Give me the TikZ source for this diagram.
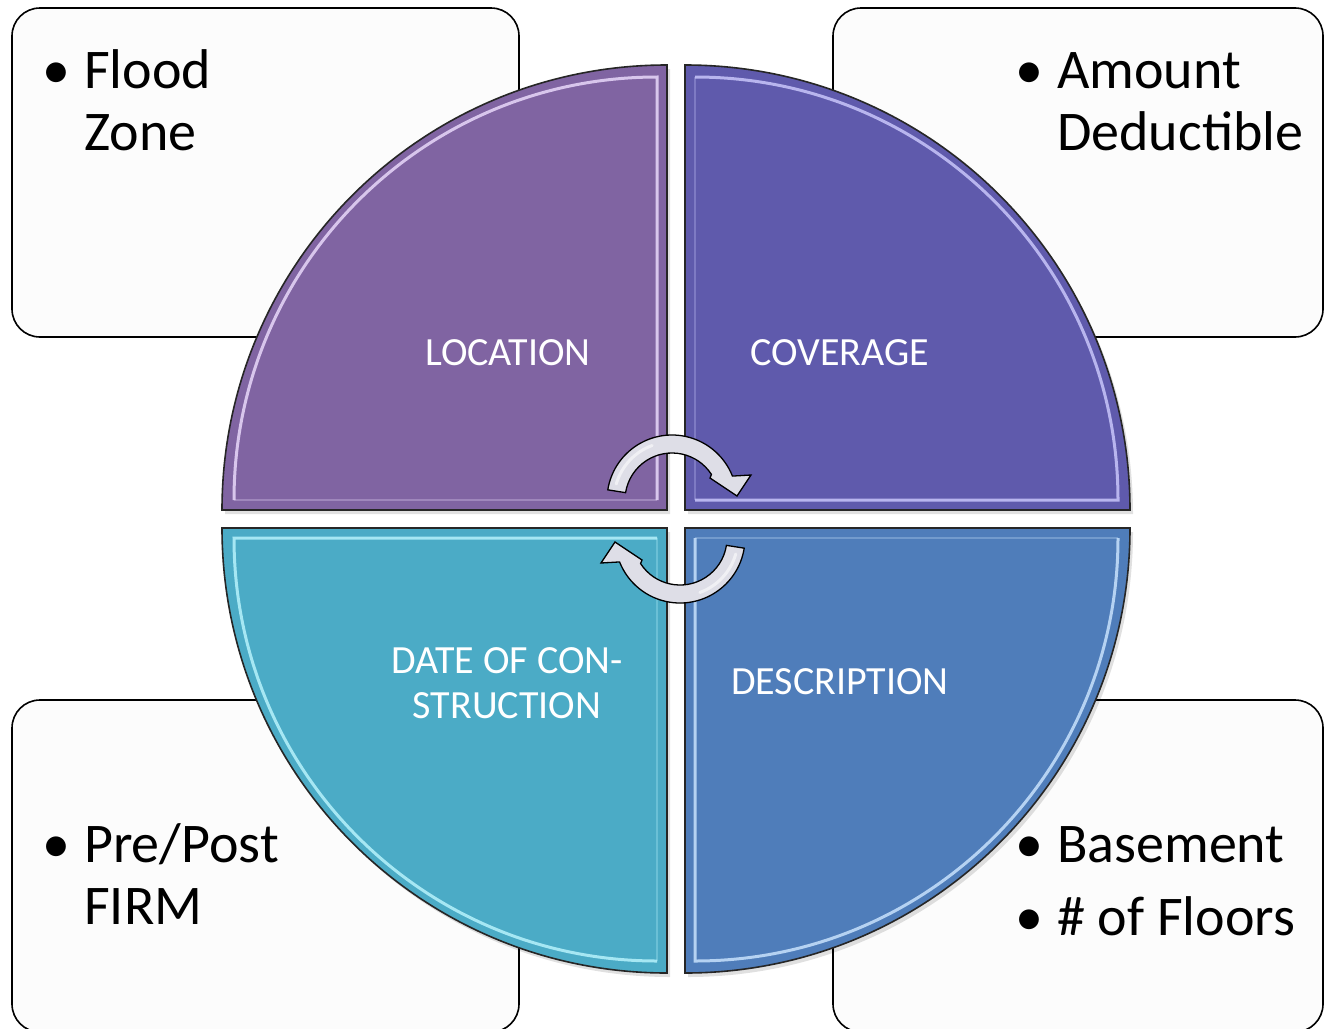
\documentclass[tikz,border=0pt]{standalone}
\usepackage{fontspec}
\setmainfont{Carlito}
\definecolor{boxfill}{RGB}{252,252,252}
\definecolor{locfill}{RGB}{128,100,162}
\definecolor{covfill}{RGB}{95,90,172}
\definecolor{desfill}{RGB}{79,125,186}
\definecolor{datfill}{RGB}{75,171,198}
\definecolor{lochi}{RGB}{232,216,250}
\definecolor{covhi}{RGB}{200,198,250}
\definecolor{deshi}{RGB}{200,225,252}
\definecolor{dathi}{RGB}{182,242,252}
\definecolor{arrowfill}{RGB}{222,222,231}
\begin{document}
\begin{tikzpicture}[x=1pt,y=-1pt,
  textbox/.style={draw=black, line width=1.6pt, fill=boxfill, rounded corners=28pt},
  quarter/.style={draw=black!85, line width=1.6pt},
  bevelline/.style={line width=3pt, opacity=0.85, line join=miter},
  bevelfaint/.style={line width=2.5pt, opacity=0.3},
  shadowq/.style={fill=black, opacity=0.12},
  itemtext/.style={anchor=base west, inner sep=0pt, font=\fontsize{56}{61.5}\selectfont, text=black},
  qlabel/.style={anchor=base, inner sep=0pt, font=\fontsize{40}{44}\selectfont, text=white},
  cyclearrow/.style={draw=black, line width=1.3pt, fill=arrowfill},
  arrowshine/.style={white, line width=3pt, opacity=0.55, line cap=round}]
\useasboundingbox (0,0) rectangle (1324,1028);
\fill[white] (0,0) rectangle (1324,1028);

% text boxes
\draw[textbox] (12,8) rectangle (519,337);
\draw[textbox] (833,8) rectangle (1323,337);
\draw[textbox] (12,700) rectangle (519,1032);
\draw[textbox] (833,700) rectangle (1323,1032);

% box texts
\node[itemtext] (b1) at (42,88) {•};
\node[itemtext] (t1a) at (84,88) {Flood};
\node[itemtext] (t1b) at (84,150) {Zone};
\node[itemtext] (b2) at (1015,88) {•};
\node[itemtext] (t2a) at (1057,88) {Amount};
\node[itemtext] (t2b) at (1057,150) {Deductible};
\node[itemtext] (b3) at (42,862) {•};
\node[itemtext] (t3a) at (84,862) {Pre/Post};
\node[itemtext] (t3b) at (84,924) {FIRM};
\node[itemtext] (b4) at (1015,862) {•};
\node[itemtext] (t4a) at (1057,862) {Basement};
\node[itemtext] (b5) at (1015,935) {•};
\node[itemtext] (t4b) at (1057,935) {\# of Floors};

% shadows
\fill[shadowq] (670,514) -- (225,514) arc[start angle=180,end angle=270,radius=445] -- cycle;
\fill[shadowq] (688,514) -- (688,69) arc[start angle=270,end angle=360,radius=445] -- cycle;
\fill[shadowq] (688,532) -- (1133,532) arc[start angle=0,end angle=90,radius=445] -- cycle;
\fill[shadowq] (670,532) -- (670,977) arc[start angle=90,end angle=180,radius=445] -- cycle;

% quarters
\draw[quarter, fill=locfill] (667,510) -- (222,510) arc[start angle=180,end angle=270,radius=445] -- cycle;
\draw[quarter, fill=covfill] (685,510) -- (685,65) arc[start angle=270,end angle=360,radius=445] -- cycle;
\draw[quarter, fill=desfill] (685,528) -- (1130,528) arc[start angle=0,end angle=90,radius=445] -- cycle;
\draw[quarter, fill=datfill] (667,528) -- (667,973) arc[start angle=90,end angle=180,radius=445] -- cycle;

% bevel highlights
\draw[bevelline, draw=lochi] (234,500) arc[start angle=180,end angle=270,radius=423] -- (657,500);
\draw[bevelfaint, draw=lochi] (657,500) -- (234,500);
\draw[bevelline, draw=covhi] (695,77) arc[start angle=270,end angle=360,radius=423] -- (695,500);
\draw[bevelfaint, draw=covhi] (695,500) -- (695,77);
\draw[bevelline, draw=deshi] (1118,538) arc[start angle=0,end angle=90,radius=423] -- (695,538);
\draw[bevelfaint, draw=deshi] (695,538) -- (1118,538);
\draw[bevelline, draw=dathi] (657,961) arc[start angle=90,end angle=180,radius=423] -- (657,538);
\draw[bevelfaint, draw=dathi] (657,538) -- (657,961);

% labels
\node[qlabel] (loc) at (508,365) {LOCATION};
\node[qlabel] (cov) at (840,365) {COVERAGE};
\node[qlabel] (des) at (840,694) {DESCRIPTION};
\node[qlabel] (dat1) at (507,673) {DATE OF CON-};
\node[qlabel] (dat2) at (507,718) {STRUCTION};

% cycle arrows
\draw[cyclearrow] ([shift={(672,500)}]189:65) arc[start angle=189,end angle=338.4,radius=65]
  -- (751,475) -- (737,496) -- (710,478) -- ([shift={(672,500)}]327:47)
  arc[start angle=327,end angle=189,radius=47] -- cycle;
\draw[arrowshine] ([shift={(672,500)}]196:58) arc[start angle=196,end angle=250,radius=58];
\begin{scope}[rotate around={180:(676,519)}]
\draw[cyclearrow] ([shift={(672,500)}]189:65) arc[start angle=189,end angle=338.4,radius=65]
  -- (751,475) -- (737,496) -- (710,478) -- ([shift={(672,500)}]327:47)
  arc[start angle=327,end angle=189,radius=47] -- cycle;
\draw[arrowshine] ([shift={(672,500)}]196:58) arc[start angle=196,end angle=250,radius=58];
\end{scope}
\end{tikzpicture}
\end{document}
